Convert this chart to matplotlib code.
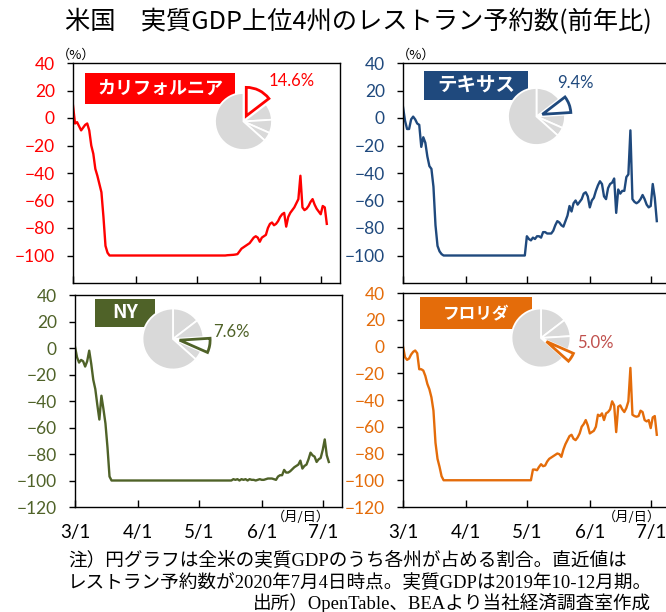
import numpy as np
import pandas as pd
import matplotlib
matplotlib.use('Agg')
import matplotlib.pyplot as plt
from matplotlib.patches import Rectangle

W, H = 666, 612
JP = ['Noto Sans CJK JP', 'DejaVu Sans']
NUM = ['Lato', 'Noto Sans CJK JP']
NOTE = ['Liberation Serif', 'Noto Sans CJK JP']

# ---- data -------------------------------------------------------------------
dates = pd.date_range('2020-03-01', '2020-07-04', freq='D')
month_ticks = pd.to_datetime(['2020-03-01', '2020-04-01', '2020-05-01', '2020-06-01', '2020-07-01'])
month_labels = ['3/1', '4/1', '5/1', '6/1', '7/1']
yticks_top = [40, 20, 0, -20, -40, -60, -80, -100]
yticks_bot = [40, 20, 0, -20, -40, -60, -80, -100, -120]

states = ['カリフォルニア', 'テキサス', 'NY', 'フロリダ']
gdp_share = [14.6, 9.4, 7.6, 5.0, 63.4]   # CA, TX, NY, FL, rest of US
share_labels = ['14.6%', '9.4%', '7.6%', '5.0%']

california = [9, -4, -3, -6, -9, -7, -5, -4, -9, -20, -26, -37, -42, -48, -54, -72, -93, -98,
              -100, -100, -100, -100, -100, -100, -100, -100, -100, -100,
              -100, -100, -100, -100, -100, -100, -100, -100, -100, -100,
              -100, -100, -100, -100, -100, -100, -100, -100, -100, -100,
              -100, -100, -100, -100, -100, -100, -100, -100, -100, -100,
              -100, -100, -100, -100, -100, -100, -100, -100, -100, -100,
              -100, -100, -100, -100, -100, -100, -100, -100,
              -99.8, -99.7, -99.6, -99.5, -99.3, -99, -97, -95, -94, -93,
              -92, -91, -89, -87, -86, -87, -90, -87, -86, -85,
              -80, -77, -76, -78, -77, -75, -72, -70, -69, -79,
              -72, -69, -67, -65, -62, -59, -42, -65, -67, -66,
              -64, -61, -59, -63, -66, -68, -70, -64, -65, -77]

texas = [8, -2, -8, -8, -1, 1, -1, -4, -5, -21, -14, -18, -28, -35, -37, -50, -78, -93, -97, -99,
         -100, -100, -100, -100, -100, -100, -100, -100, -100, -100,
         -100, -100, -100, -100, -100, -100, -100, -100, -100, -100,
         -100, -100, -100, -100, -100, -100, -100, -100, -100, -100,
         -100, -100, -100, -100, -100, -100, -100, -100, -100, -100, -100,
         -86, -88, -89, -87, -88, -86, -86, -87, -83, -83,
         -84, -84, -84, -82, -78, -75, -76, -78, -79, -75,
         -71, -64, -68, -62, -60, -63, -61, -59, -55, -54,
         -57, -65, -60, -58, -53, -49, -46, -48, -57, -59,
         -51, -48, -47, -44, -69, -52, -55, -53, -53, -43,
         -41, -9, -59, -61, -62, -61, -59, -56, -59, -63,
         -65, -64, -48, -58, -75]

new_york = [1, -7, -11, -9, -10, -14, -10, -2, -12, -24, -31, -43, -54, -36, -46, -57, -75, -97,
            -100, -100, -100, -100, -100, -100, -100, -100, -100, -100,
            -100, -100, -100, -100, -100, -100, -100, -100, -100, -100,
            -100, -100, -100, -100, -100, -100, -100, -100, -100, -100,
            -100, -100, -100, -100, -100, -100, -100, -100, -100, -100,
            -100, -100, -100, -100, -100, -100, -100, -100, -100, -100,
            -100, -100, -100, -100, -100, -100, -100, -100, -100, -100,
            -99, -99.5, -99, -100, -99, -99.5, -99, -100, -99, -99.5,
            -99.5, -100, -99.5, -99, -99.5, -99.5, -99, -98.5, -98.5, -98.5,
            -99, -99.5, -97, -96, -96, -92, -94, -94, -93, -91.5,
            -90, -89, -88, -85, -91, -89, -88, -84, -79, -81,
            -82, -86, -84, -83, -77, -69, -81, -86]

florida = [0, -8, -10, -9, -6, -4, -3, -5, -17, -17, -18, -22, -28, -32, -38, -48, -72, -84, -90, -97,
           -100, -100, -100, -100, -100, -100, -100, -100, -100, -100,
           -100, -100, -100, -100, -100, -100, -100, -100, -100, -100,
           -100, -100, -100, -100, -100, -100, -100, -100, -100, -100,
           -100, -100, -100, -100, -100, -100, -100, -100, -100, -100,
           -100, -100, -100, -100,
           -92, -92, -92.5, -90, -88, -89.5, -89, -86, -84, -83,
           -82, -81, -80, -80.5, -82.5, -77, -73, -70, -67, -66,
           -69, -70, -68, -65, -60, -58, -55, -59, -65, -64,
           -63, -60, -51, -52, -50, -55, -50, -49, -47, -41,
           -44, -64, -45, -44, -47, -49, -46, -41, -16, -51,
           -52, -52.5, -52, -48, -49, -55, -56, -55, -61, -53,
           -52, -66]

series = [california, texas, new_york, florida]

# ---- layout (pixels) -----------------------------------------------------------
colors = ['#FF0000', '#1F497D', '#4F6228', '#E46C0A']
pct_colors = ['#FF0000', '#1F497D', '#4F6228', '#C0504D']
axes_px = [(73, 63, 340, 283), (403, 63, 670, 283), (75, 295, 342, 507), (403, 293, 670, 507)]
box_px = [(85, 73, 235, 104), (424, 71, 528, 100), (95, 299, 155, 327), (420, 297, 532, 329)]
box_fs = [13, 14, 14, 12]
pie_px = [(243.5, 121.5, 28.5), (536.5, 116.5, 28.5), (173, 339, 30.5), (541, 338, 29.5)]
pct_px = [(292, 81), (575, 83), (231, 332), (595, 343)]


def fbox(x0, y0, x1, y1):
    return [x0 / W, 1 - y1 / H, (x1 - x0) / W, (y1 - y0) / H]


fig = plt.figure(figsize=(W / 100, H / 100), dpi=100)
fig.text(358 / W, 1 - 22 / H, '米国　実質GDP上位4州のレストラン予約数(前年比)',
         ha='center', va='center', fontsize=18.2, family=JP)

for i in range(4):
    ax = fig.add_axes(fbox(*axes_px[i]))
    ax.plot(dates, series[i], color=colors[i], lw=1.7)
    ax.set_xlim(dates[0], dates[0] + pd.Timedelta(days=131.5))
    ax.set_ylim(-120, 40)
    bottom = i >= 2
    ax.set_yticks(yticks_bot if bottom else yticks_top)
    ax.set_xticks(month_ticks)
    ax.set_xticklabels(month_labels if bottom else [])
    ax.tick_params(axis='x', direction='in', length=5, width=1, pad=12, labelsize=13.5)
    ax.tick_params(axis='y', direction='out', length=4, width=1, pad=9, labelsize=12.5,
                   labelcolor=colors[i])
    for lab in ax.get_xticklabels() + ax.get_yticklabels():
        lab.set_family(NUM)
    for sp in ax.spines.values():
        sp.set_linewidth(1.0)

    # state label box
    x0, y0, x1, y1 = box_px[i]
    fig.add_artist(Rectangle((x0 / W, 1 - y1 / H), (x1 - x0) / W, (y1 - y0) / H,
                             transform=fig.transFigure, facecolor=colors[i],
                             edgecolor='none', zorder=3))
    fig.text((x0 + x1) / 2 / W, 1 - (y0 + y1) / 2 / H, states[i], ha='center', va='center',
             color='white', fontsize=box_fs[i], fontweight='bold', family=JP, zorder=4)

    # GDP share pie
    cx, cy, r = pie_px[i]
    s = r * 1.5
    pax = fig.add_axes(fbox(cx - s, cy - s, cx + s, cy + s), zorder=5)
    pcols = ['#D9D9D9'] * 5
    pcols[i] = 'white'
    explode = [0] * 5
    explode[i] = 0.22
    wedges, _ = pax.pie(gdp_share, colors=pcols, explode=explode, startangle=90,
                        counterclock=False, radius=1,
                        wedgeprops=dict(edgecolor='white', linewidth=1.3))
    wedges[i].set_edgecolor(colors[i])
    wedges[i].set_linewidth(2)
    wedges[i].set_zorder(3)
    pax.set_xlim(-1.5, 1.5)
    pax.set_ylim(-1.5, 1.5)
    pax.axis('off')
    px, py = pct_px[i]
    fig.text(px / W, 1 - py / H, share_labels[i], ha='center', va='center',
             color=pct_colors[i], fontsize=12, family=NUM, zorder=6)

fig.text(76 / W, 1 - 55 / H, '（%）', ha='center', va='center', fontsize=9.5, family=JP)
fig.text(416 / W, 1 - 55 / H, '（%）', ha='center', va='center', fontsize=9.5, family=JP)
fig.text(301 / W, 1 - 517 / H, '（月/日）', ha='center', va='center', fontsize=9.5, family=JP)
fig.text(632 / W, 1 - 517 / H, '（月/日）', ha='center', va='center', fontsize=9.5, family=JP)

fig.text(68 / W, 1 - 561 / H, '注）円グラフは全米の実質GDPのうち各州が占める割合。直近値は',
         ha='left', va='center', fontsize=13.4, family=NOTE)
fig.text(68 / W, 1 - 583 / H, 'レストラン予約数が2020年7月4日時点。実質GDPは2019年10-12月期。',
         ha='left', va='center', fontsize=13.4, family=NOTE)
fig.text(253 / W, 1 - 603 / H, '出所）OpenTable、BEAより当社経済調査室作成',
         ha='left', va='center', fontsize=13.4, family=NOTE)

fig.savefig('out.png', dpi=100)
